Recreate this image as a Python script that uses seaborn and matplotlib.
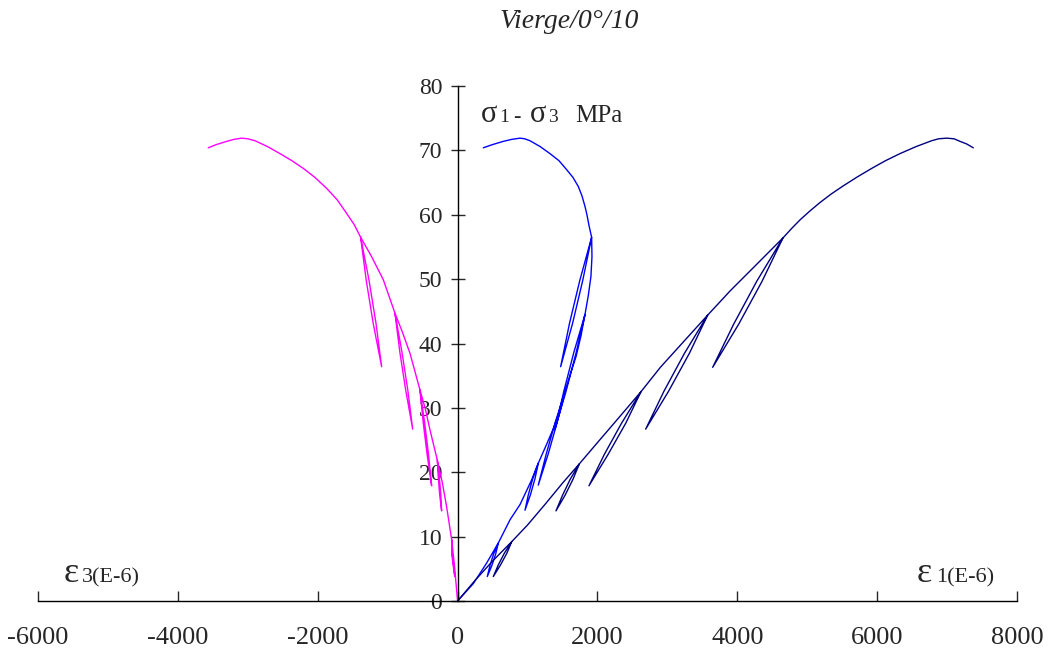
import pandas as pd
import matplotlib
matplotlib.use("Agg")
import matplotlib.pyplot as plt
import seaborn as sns

# eps1 (navy) : envelope + 5 unloading/reloading loops
eps1_x = [0, 250, 500, 773,
          704, 614, 511, 582, 668, 773,
          1000, 1250, 1500, 1741,
          1650, 1536, 1407, 1500, 1610, 1741,
          2000, 2300, 2622,
          2404, 2154, 1879, 2100, 2344, 2622,
          2900, 3250, 3576,
          3316, 3018, 2690, 2952, 3246, 3576,
          3900, 4250, 4653,
          4356, 4020, 3648, 3948, 4280, 4653,
          4780, 4897, 5040, 5183, 5340, 5517, 5720, 5922, 6120, 6327,
          6560, 6780, 6880, 6994, 7100, 7185, 7280, 7375]
eps1_y = [0, 3.2, 6.2, 9.2,
          7.4, 5.6, 3.8, 5.6, 7.4, 9.2,
          11.8, 15.0, 18.3, 21.3,
          18.9, 16.4, 14.0, 16.4, 18.9, 21.3,
          24.6, 28.4, 32.5,
          27.6, 22.8, 17.9, 22.8, 27.6, 32.5,
          36.3, 40.5, 44.4,
          38.5, 32.6, 26.7, 32.6, 38.5, 44.4,
          48.2, 52.0, 56.4,
          49.7, 43.0, 36.3, 43.0, 49.7, 56.4,
          57.9, 59.2, 60.6, 61.9, 63.2, 64.5, 65.9, 67.2, 68.4, 69.5,
          70.6, 71.5, 71.8, 71.9, 71.8, 71.4, 71.0, 70.4]

# middle blue curve
mid_x = [0, 225, 416, 582,
         545, 490, 425, 463, 515, 582,
         749, 894, 1059, 1154,
         1107, 1042, 964, 1012, 1075, 1154,
         1280, 1378, 1464, 1536,
         1423, 1295, 1154, 1267, 1395, 1536,
         1620, 1695, 1765, 1822,
         1696, 1552, 1393, 1520, 1662, 1822,
         1870, 1907, 1922, 1917,
         1790, 1644, 1474, 1600, 1748, 1917,
         1880, 1850, 1822, 1780, 1726, 1650, 1560, 1450, 1321, 1180,
         1035, 960, 892, 770, 654, 500, 368]
mid_y = [0, 2.7, 5.9, 9.0,
         7.3, 5.5, 3.8, 5.5, 7.3, 9.0,
         12.6, 15.0, 18.8, 21.4,
         19.0, 16.5, 14.1, 16.5, 19.0, 21.4,
         24.5, 27.0, 29.7, 32.5,
         27.7, 22.8, 18.0, 22.8, 27.7, 32.5,
         35.5, 38.0, 41.2, 44.5,
         38.6, 32.6, 26.7, 32.6, 38.6, 44.5,
         47.5, 50.4, 53.5, 56.5,
         49.8, 43.1, 36.4, 43.1, 49.8, 56.5,
         58.3, 60.0, 61.3, 62.9, 64.4, 65.8, 67.0, 68.4, 69.5, 70.6,
         71.5, 71.8, 71.9, 71.7, 71.4, 70.9, 70.4]

# eps3 (magenta)
eps3_x = [0, -40, -84,
          -76, -56, -40, -64, -84, -84,
          -156, -220, -290,
          -276, -257, -228, -240, -262, -290,
          -395, -460, -538,
          -472, -417, -371, -437, -492, -538,
          -681, -790, -895,
          -796, -711, -642, -741, -826, -895,
          -1062, -1230, -1386,
          -1266, -1166, -1086, -1206, -1306, -1386,
          -1480, -1586, -1720, -1872, -2040, -2206, -2370, -2540, -2720,
          -2897, -3000, -3088, -3200, -3302, -3450, -3565]
eps3_y = [0, 5.0, 9.5,
          7.4, 5.6, 3.8, 5.6, 7.4, 9.5,
          14.6, 18.5, 21.9,
          19.3, 16.6, 14.0, 16.6, 19.3, 21.9,
          26.6, 29.8, 32.8,
          27.8, 22.9, 17.9, 22.9, 27.8, 32.8,
          38.5, 41.8, 44.7,
          38.7, 32.7, 26.7, 32.7, 38.7, 44.7,
          49.9, 53.5, 56.5,
          49.8, 43.1, 36.4, 43.1, 49.8, 56.5,
          58.5, 60.2, 62.3, 64.1, 65.8, 67.2, 68.4, 69.5, 70.6,
          71.5, 71.8, 71.9, 71.7, 71.4, 70.9, 70.4]

x_ticks = [-6000, -4000, -2000, 0, 2000, 4000, 6000, 8000]
y_ticks = [0, 10, 20, 30, 40, 50, 60, 70, 80]

sns.set_style("white")
plt.rcParams["font.family"] = ["Liberation Serif", "DejaVu Serif"]
plt.rcParams["axes.unicode_minus"] = False

fig = plt.figure(figsize=(10.49, 6.55), dpi=100)
ax = fig.add_axes([38 / 1049, 54 / 655, 979 / 1049, 515 / 655])

curves = [("eps3", eps3_x, eps3_y, "#FF00FF"),
          ("mid", mid_x, mid_y, "#0000FF"),
          ("eps1", eps1_x, eps1_y, "#000080")]
for name, xs, ys, col in curves:
    d = pd.DataFrame({"x": xs, "y": ys})
    sns.lineplot(data=d, x="x", y="y", sort=False, estimator=None,
                 color=col, linewidth=1.0, ax=ax)

ax.set_xlim(-6000, 8000)
ax.set_ylim(0, 80)
ax.set_xticks(x_ticks)
ax.set_yticks(y_ticks)
ax.set_xlabel("")
ax.set_ylabel("")
ax.spines["top"].set_visible(False)
ax.spines["right"].set_visible(False)
ax.spines["left"].set_position(("data", 0))
for s in ["left", "bottom"]:
    ax.spines[s].set_color("black")
    ax.spines[s].set_linewidth(1.0)
ax.tick_params(axis="x", direction="in", length=7, width=1, pad=19,
               labelsize=19, bottom=True)
ax.tick_params(axis="y", direction="inout", length=10, width=1, pad=6,
               labelsize=17, left=True)
ax.patch.set_alpha(0)

# axis captions
ax.text(335, 74.4, "σ", fontsize=22, va="baseline", ha="left")
ax.text(590, 74.4, "1", fontsize=14, va="baseline", ha="left")
ax.text(800, 74.4, "-", fontsize=16, va="baseline", ha="left")
ax.text(1040, 74.4, "σ", fontsize=22, va="baseline", ha="left")
ax.text(1300, 74.4, "3", fontsize=14, va="baseline", ha="left")
ax.text(1680, 74.4, "MPa", fontsize=18, va="baseline", ha="left")

ax.text(-5630, 2.95, "ε", fontsize=26, va="baseline", ha="left")
ax.text(-5372, 2.95, "3(E-6)", fontsize=16, va="baseline", ha="left")
ax.text(6570, 2.95, "ε", fontsize=26, va="baseline", ha="left")
ax.text(6850, 2.95, "1(E-6)", fontsize=16, va="baseline", ha="left")

fig.text(569 / 1049, 1 - 21 / 655, "Vierge/0°/10", fontsize=20,
         style="italic", ha="center", va="center")

plt.savefig("out.png", dpi=100)
